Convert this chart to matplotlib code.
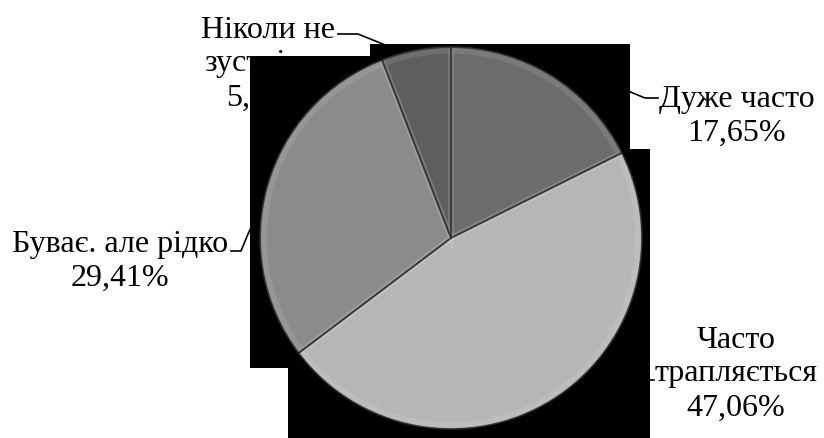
import matplotlib
matplotlib.use("Agg")
import matplotlib.pyplot as plt
from matplotlib.patches import Polygon

categories = ["Дуже часто", "Часто\nтрапляється", "Буває. але рідко", "Ніколи не\nзустрічав"]
values = [17.65, 47.06, 29.41, 5.88]
colors = ["#6c6c6c", "#b6b6b6", "#8b8b8b", "#5e5e5e"]

W, H = 824, 439
fig = plt.figure(figsize=(W / 100, H / 100), dpi=100)
ax = fig.add_axes([0, 0, 1, 1])

def py(y):
    return H - y

CX, CY, R = 451, py(239), 191

wedges, _ = ax.pie(values, colors=colors, startangle=90, counterclock=False,
                   center=(CX, CY), radius=R,
                   wedgeprops=dict(edgecolor="#404040", linewidth=1.0, zorder=3))
for w in wedges:
    w.set_zorder(3)
# soft bevel: light inner band and darker rim
ax.pie(values, colors=["none"] * 4, startangle=90, counterclock=False,
       center=(CX, CY), radius=R - 4,
       wedgeprops=dict(edgecolor=(1, 1, 1, 0.10), linewidth=4.0, zorder=4))
ax.pie(values, colors=["none"] * 4, startangle=90, counterclock=False,
       center=(CX, CY), radius=R,
       wedgeprops=dict(edgecolor=(0, 0, 0, 0.25), linewidth=1.5, zorder=5))

ax.set_xlim(0, W)
ax.set_ylim(0, H)
ax.set_aspect("auto")
ax.axis("off")

# black background artefact behind the pie
poly = [(370, 45), (630, 45), (630, 150), (650, 150), (650, 439), (288, 439),
        (288, 369), (250, 369), (250, 57), (370, 57)]
ax.add_patch(Polygon([(x, py(y)) for x, y in poly], closed=True,
                     facecolor="black", edgecolor="none", zorder=2))

font = dict(family="Liberation Serif", size=23, color="black",
            ha="center", va="center", multialignment="center", zorder=1,
            linespacing=1.22)

def fmt(i):
    return categories[i] + "\n" + f"{values[i]:.2f}".replace(".", ",") + "%"

label_pos = [(737, 116), (736, 374), (120, 261), (268, 64)]
for i, (x, y) in enumerate(label_pos):
    ax.text(x, py(y), fmt(i), **font)

leaders = [
    [(628, 92), (645, 99), (658, 99)],
    [(640, 381), (648, 381), (654, 381)],
    [(265, 200), (248, 235), (241, 252), (231, 252)],
    [(400, 52), (358, 35), (338, 35)],
]
for pts in leaders:
    ax.plot([p[0] for p in pts], [py(p[1]) for p in pts], color="black",
            linewidth=1.2, zorder=1)

fig.savefig("out.png", dpi=100)
